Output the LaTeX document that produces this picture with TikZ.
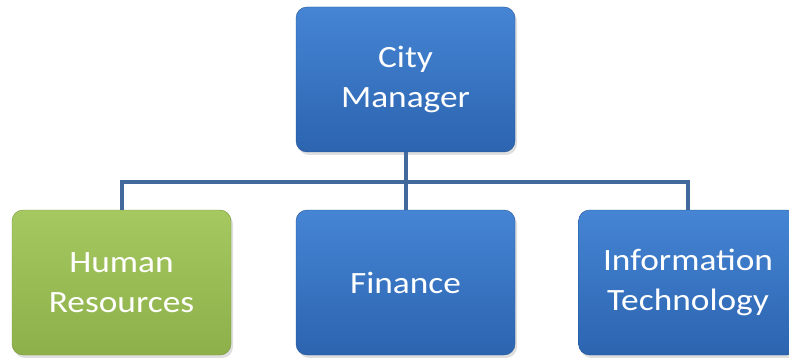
\documentclass[tikz,border=0pt]{standalone}
\usepackage{fontspec}
\setmainfont{Carlito}[FakeStretch=1.14]
\usetikzlibrary{shadows}
\definecolor{blueTop}{HTML}{4585D4}
\definecolor{blueBot}{HTML}{2C64B0}
\definecolor{greenTop}{HTML}{A6C861}
\definecolor{greenBot}{HTML}{8EB04A}
\definecolor{linkBlue}{HTML}{41699C}

\begin{document}
\begin{tikzpicture}[x=1pt,y=-1pt,
    unit/.style={rounded corners=11pt, minimum width=219pt, minimum height=145pt,
        inner sep=0pt, text=white, align=center,
        font=\fontsize{31}{40}\selectfont,
        draw=blueBot!85!black, line width=0.4pt,
        top color=blueTop, bottom color=blueBot,
        drop shadow={shadow xshift=2pt, shadow yshift=-3pt, opacity=0.25}},
    greenUnit/.style={unit, draw=greenBot!85!black, top color=greenTop, bottom color=greenBot},
    link/.style={draw=linkBlue, line width=4pt}]
    \useasboundingbox (0,0) rectangle (789,358);

    \coordinate (bus) at (405,182);

    \node[unit] (cityManager) at (405.5,79.5) {City\\Manager};
    \node[greenUnit] (humanResources) at (121.5,282.5) {Human\\Resources};
    \node[unit] (finance) at (405.5,282.5) {Finance};
    \node[unit] (infoTech) at (688,282.5) {Information\\Technology};

    \draw[link] (cityManager.south) -- (finance.north);
    \draw[link] (cityManager.south |- bus) -| (humanResources.north);
    \draw[link] (cityManager.south |- bus) -| (infoTech.north);
\end{tikzpicture}
\end{document}
